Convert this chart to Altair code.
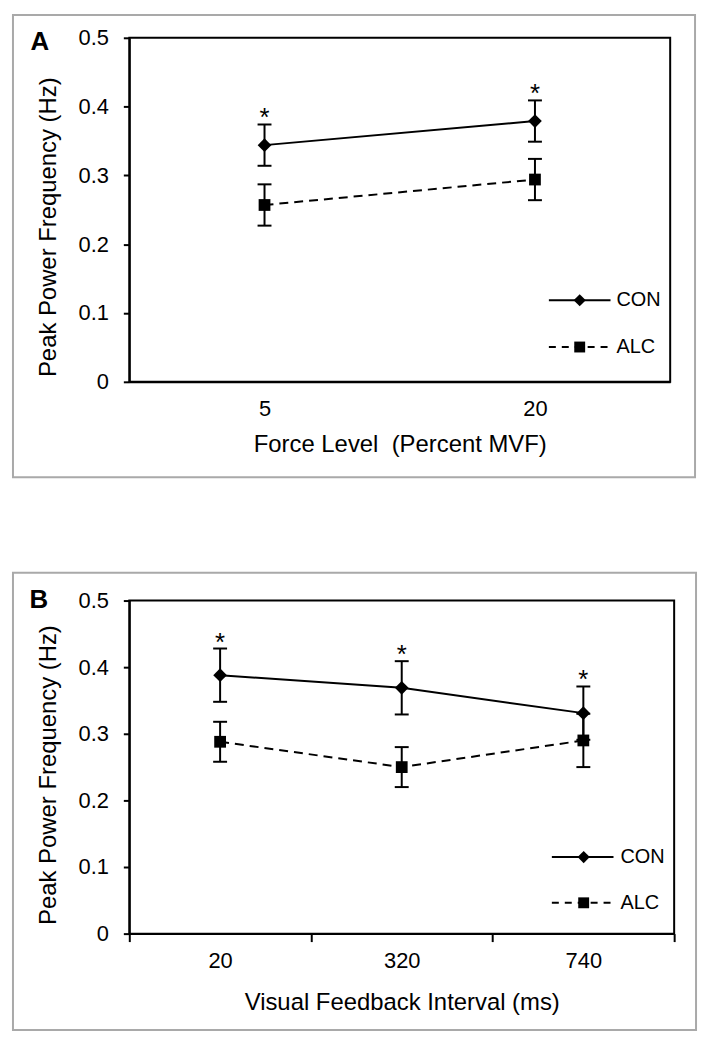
import altair as alt
import pandas as pd

# ---------------- data ----------------
groups = ["CON", "ALC"]

force_levels = ["5", "20"]
a_con = [0.344, 0.379]
a_con_err = [0.030, 0.030]
a_alc = [0.257, 0.294]
a_alc_err = [0.030, 0.030]

intervals = ["20", "320", "740"]
b_con = [0.388, 0.369, 0.331]
b_con_err = [0.040, 0.040, 0.040]
b_alc = [0.288, 0.250, 0.290]
b_alc_err = [0.030, 0.030, 0.040]

y_ticks = [0, 0.1, 0.2, 0.3, 0.4, 0.5]

FONT = "Liberation Sans"


def make_df(cats, con, con_err, alc, alc_err):
    rows = []
    for c, m, e in zip(cats, con, con_err):
        rows.append({"cat": c, "group": groups[0], "mean": m, "lo": m - e, "hi": m + e})
    for c, m, e in zip(cats, alc, alc_err):
        rows.append({"cat": c, "group": groups[1], "mean": m, "lo": m - e, "hi": m + e})
    return pd.DataFrame(rows)


def panel(df, cats, width, height, xtitle, letter, frame, letter_pos,
          legend, ytitle_y, x_title_pad, show_ticks):
    one = pd.DataFrame({"k": [0]})
    base = alt.Chart(df)
    x_enc = alt.X(
        "cat:N", sort=cats, title=xtitle,
        scale=alt.Scale(type="band", paddingInner=0, paddingOuter=0),
        axis=alt.Axis(labelAngle=0, tickBand="extent", tickSize=8,
                      tickOpacity=1 if show_ticks else 0, labelPadding=9,
                      titlePadding=x_title_pad),
    )
    yscale = alt.Scale(domain=[0, 0.5], nice=False, zero=True)
    yaxis = alt.Axis(values=y_ticks, tickSize=6, labelPadding=15, titlePadding=18,
                     titleY=ytitle_y,
                     labelExpr="datum.value == 0 ? '0' : format(datum.value, '.1f')")
    ytitle = "Peak Power Frequency (Hz)"

    def Y(f):
        return alt.Y(f, scale=yscale, axis=yaxis, title=ytitle)

    con = base.transform_filter(alt.datum.group == groups[0])
    alc = base.transform_filter(alt.datum.group == groups[1])

    fx0, fx1, fy0, fy1 = frame
    frame_l = alt.Chart(one).mark_rect(fillOpacity=0, stroke="#a9a9a9", strokeWidth=2).encode(
        x=alt.value(fx0), x2=alt.value(fx1), y=alt.value(fy0), y2=alt.value(fy1))

    rules = base.mark_rule(color="black", strokeWidth=2).encode(
        x=x_enc, y=Y("lo:Q"), y2="hi:Q")
    cap_lo = base.mark_tick(color="black", size=14, thickness=2, opacity=1).encode(
        x=x_enc, y=Y("lo:Q"))
    cap_hi = base.mark_tick(color="black", size=14, thickness=2, opacity=1).encode(
        x=x_enc, y=Y("hi:Q"))
    line_con = con.mark_line(color="black", strokeWidth=2).encode(x=x_enc, y=Y("mean:Q"))
    line_alc = alc.mark_line(color="black", strokeWidth=2, strokeDash=[9, 6]).encode(
        x=x_enc, y=Y("mean:Q"))
    pt_con = con.mark_point(shape="diamond", filled=True, color="black", size=190,
                            opacity=1).encode(x=x_enc, y=Y("mean:Q"))
    pt_alc = alc.mark_point(shape="square", filled=True, color="black", size=140,
                            opacity=1).encode(x=x_enc, y=Y("mean:Q"))
    stars = con.mark_text(text="*", font=FONT, fontSize=26, color="black",
                          baseline="alphabetic", dy=2).encode(x=x_enc, y=Y("hi:Q"))

    lx0, lx1, lmx, ltx, ly_con, ly_alc = legend
    leg = [
        alt.Chart(one).mark_rule(color="black", strokeWidth=2).encode(
            x=alt.value(lx0), x2=alt.value(lx1), y=alt.value(ly_con)),
        alt.Chart(one).mark_point(shape="diamond", filled=True, color="black",
                                  size=150, opacity=1).encode(
            x=alt.value(lmx), y=alt.value(ly_con)),
        alt.Chart(one).mark_text(align="left", baseline="middle", font=FONT,
                                 fontSize=20, color="black").encode(
            x=alt.value(ltx), y=alt.value(ly_con), text=alt.value(groups[0])),
        alt.Chart(one).mark_rule(color="black", strokeWidth=2, strokeDash=[7, 6]).encode(
            x=alt.value(lx0), x2=alt.value(lx1), y=alt.value(ly_alc)),
        alt.Chart(one).mark_point(shape="square", filled=True, color="black",
                                  size=120, opacity=1).encode(
            x=alt.value(lmx), y=alt.value(ly_alc)),
        alt.Chart(one).mark_text(align="left", baseline="middle", font=FONT,
                                 fontSize=20, color="black").encode(
            x=alt.value(ltx), y=alt.value(ly_alc), text=alt.value(groups[1])),
    ]
    letter_l = alt.Chart(one).mark_text(font=FONT, fontSize=26, fontWeight="bold",
                                        color="black", align="center",
                                        baseline="middle").encode(
        x=alt.value(letter_pos[0]), y=alt.value(letter_pos[1]), text=alt.value(letter))

    return alt.layer(frame_l, rules, cap_lo, cap_hi, line_con, line_alc, pt_con, pt_alc,
                     stars, *leg, letter_l).properties(width=width, height=height)


df_a = make_df(force_levels, a_con, a_con_err, a_alc, a_alc_err)
df_b = make_df(intervals, b_con, b_con_err, b_alc, b_alc_err)

chart_a = panel(df_a, force_levels, 544, 346, "Force Level\u00a0 (Percent MVF)", "A",
                (-117, 569, -23, 442), (-90, 4),
                (422, 484, 453, 490, 264, 311), 190, 13, False)
chart_b = panel(df_b, intervals, 548, 335, "Visual Feedback Interval (ms)", "B",
                (-117, 570, -28, 432), (-91, -1),
                (425, 487, 457, 494, 258, 304), 175, 19, True)

chart = alt.vconcat(chart_a, chart_b, spacing=92).properties(
    padding={"left": 3, "top": 2, "right": 3, "bottom": 3},
    background="white",
).configure_view(
    stroke="black", strokeWidth=2
).configure_axis(
    grid=False, domainColor="black", domainWidth=2, tickColor="black", tickWidth=2,
    labelFont=FONT, labelFontSize=22, labelColor="black",
    titleFont=FONT, titleFontSize=24, titleFontWeight="normal", titleColor="black",
)

chart.save("out.html", embed_options={"renderer": "svg", "actions": False})
